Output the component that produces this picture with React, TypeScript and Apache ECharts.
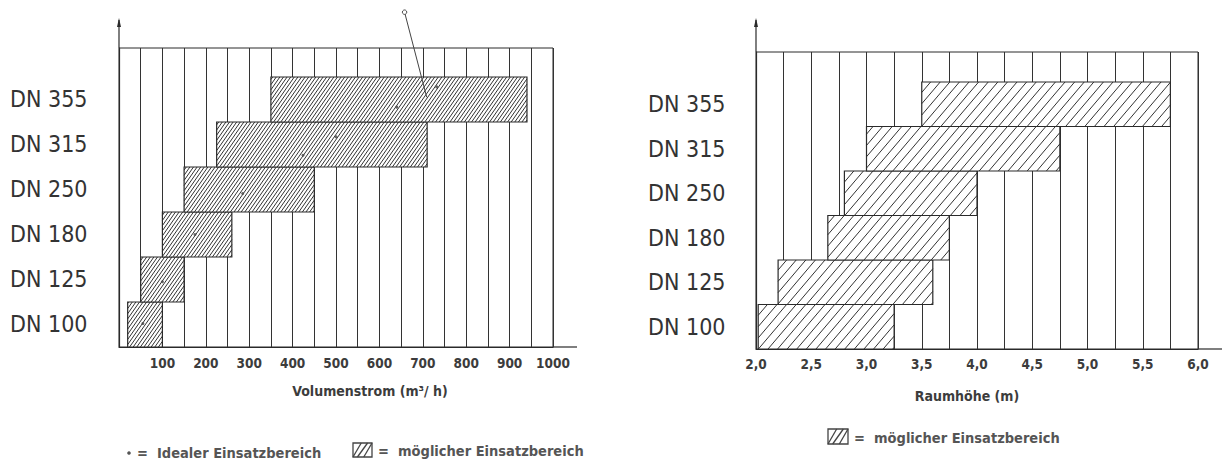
import React, { useEffect, useRef } from 'react';
import * as echarts from 'echarts';

// ---------- data ----------
const categories = ['DN 100', 'DN 125', 'DN 180', 'DN 250', 'DN 315', 'DN 355'];

// left panel: Volumenstrom (m³/h), possible range per diameter
const flowMin = [20, 50, 100, 150, 225, 350];
const flowMax = [100, 150, 260, 450, 710, 940];
// ideal range marks (value, band position)
const idealFlow = [55, 100, 175, 285, 424, 500, 640, 732];
const idealBand = [0.52, 1.45, 2.5, 3.41, 4.26, 4.67, 5.33, 5.78];
// leader line of the ideal range annotation
const leaderFlow = [658, 709];
const leaderBand = [7.44, 5.55];
const flowTickLabels = ['100', '200', '300', '400', '500', '600', '700', '800', '900', '1000'];

// right panel: Raumhöhe (m), possible range per diameter
const heightMin = [2.02, 2.2, 2.65, 2.8, 3.0, 3.5];
const heightMax = [3.25, 3.6, 3.75, 4.0, 4.75, 5.75];
const heightTickLabels = ['2,0', '2,5', '3,0', '3,5', '4,0', '4,5', '5,0', '5,5', '6,0'];

const LABEL_FONT = 'DejaVu Sans Condensed';
const TICK_FONT = 'DejaVu Sans Condensed';
const INK = '#2a2a2a';

function hatchRenderer(spacing: number, slope: number, lw: number, color: string) {
  return (params: any, api: any) => {
    const lo = api.value(0);
    const hi = api.value(1);
    const band = api.value(2);
    const p0 = api.coord([lo, band]);
    const p1 = api.coord([hi, band + 1]);
    const x0 = p0[0];
    const x1 = p1[0];
    const yb = p0[1];
    const yt = p1[1];
    const h = yb - yt;
    const span = slope * h;
    const children: any[] = [
      { type: 'rect', shape: { x: x0, y: yt, width: x1 - x0, height: h }, style: { fill: '#fff', stroke: 'none' } },
    ];
    let c = Math.floor((x0 - span) / spacing) * spacing;
    for (; c <= x1; c += spacing) {
      const tmin = Math.max(0, (x0 - c) / span);
      const tmax = Math.min(1, (x1 - c) / span);
      if (tmax > tmin) {
        children.push({
          type: 'line',
          shape: { x1: c + span * tmin, y1: yb - h * tmin, x2: c + span * tmax, y2: yb - h * tmax },
          style: { stroke: color, lineWidth: lw },
        });
      }
    }
    children.push({
      type: 'rect',
      shape: { x: x0, y: yt, width: x1 - x0, height: h },
      style: { fill: 'none', stroke: INK, lineWidth: 1.2 },
    });
    return { type: 'group', children };
  };
}

function legendBox(x: number, y: number, w: number, h: number) {
  const lines: any[] = [
    { type: 'rect', shape: { x, y, width: w, height: h }, style: { fill: '#fff', stroke: '#444', lineWidth: 1.3 } },
  ];
  const step = w / 3;
  for (let k = 1; k <= 3; k++) {
    const xs = x + step * (k - 1);
    lines.push({
      type: 'line',
      shape: { x1: Math.max(x, xs - step * 0.3), y1: y + h, x2: Math.min(x + w, xs + step * 1.3), y2: y },
      style: { stroke: '#444', lineWidth: 1.3 },
    });
  }
  return lines;
}

export default function App() {
  const ref = useRef<HTMLDivElement>(null);

  useEffect(() => {
    document.body.style.margin = '0';
    const chart = echarts.init(ref.current!, null, { renderer: 'svg' });

    const flowData = categories.map((_, i) => [flowMin[i], flowMax[i], i]);
    const heightData = categories.map((_, i) => [heightMin[i], heightMax[i], i]);
    const idealData = idealFlow.map((v, i) => [v, idealBand[i]]);
    const leaderData = [[leaderFlow[0], leaderBand[0], leaderFlow[1], leaderBand[1]]];

    const yLabel = (v: number) => {
      const i = Math.round(v - 0.5);
      if (Math.abs(v - 0.5 - i) < 1e-6 && i >= 0 && i < categories.length) return categories[i];
      return '';
    };

    const tickLabelStyle = {
      fontFamily: TICK_FONT,
      fontWeight: 'bold' as const,
      fontSize: 13.5,
      color: '#3c3c3c',
    };

    const nameStyle = {
      fontFamily: TICK_FONT,
      fontWeight: 'bold' as const,
      fontSize: 14,
      fill: '#3c3c3c',
      align: 'center' as const,
      verticalAlign: 'middle' as const,
    };

    const legendStyle = {
      fontFamily: TICK_FONT,
      fontWeight: 'bold' as const,
      fontSize: 14.5,
      fill: '#555',
      verticalAlign: 'middle' as const,
    };

    const option: any = {
      animation: false,
      backgroundColor: '#fff',
      grid: [
        { left: 119, top: 48, width: 434, height: 299, show: true, borderColor: INK, borderWidth: 1 },
        { left: 756, top: 52, width: 442, height: 297, show: true, borderColor: INK, borderWidth: 1 },
      ],
      xAxis: [
        {
          gridIndex: 0,
          type: 'value',
          min: 0,
          max: 1000,
          interval: 50,
          axisLine: { show: true, lineStyle: { color: INK, width: 1.2 } },
          axisTick: { show: false },
          splitLine: { show: true, lineStyle: { color: '#333', width: 1 } },
          axisLabel: {
            ...tickLabelStyle,
            margin: 9,
            formatter: (v: number) => {
              const i = Math.round(v / 100) - 1;
              if (Math.abs(v - (i + 1) * 100) < 1e-6 && i >= 0 && i < flowTickLabels.length) return flowTickLabels[i];
              return '';
            },
          },
        },
        {
          gridIndex: 1,
          type: 'value',
          min: 2,
          max: 6,
          interval: 0.25,
          axisLine: { show: true, lineStyle: { color: INK, width: 1.2 } },
          axisTick: { show: false },
          splitLine: { show: true, lineStyle: { color: '#333', width: 1 } },
          axisLabel: {
            ...tickLabelStyle,
            margin: 8,
            formatter: (v: number) => {
              const i = Math.round((v - 2) / 0.5);
              if (Math.abs(v - 2 - i * 0.5) < 1e-6 && i >= 0 && i < heightTickLabels.length) return heightTickLabels[i];
              return '';
            },
          },
        },
      ],
      yAxis: [
        {
          gridIndex: 0,
          type: 'value',
          min: 0,
          max: 6.644,
          interval: 0.5,
          axisLine: { show: true, lineStyle: { color: INK, width: 1.2 } },
          axisTick: { show: false },
          splitLine: { show: false },
          axisLabel: {
            align: 'left',
            margin: 109,
            fontFamily: LABEL_FONT,
            fontSize: 23,
            color: '#333',
            formatter: yLabel,
          },
        },
        {
          gridIndex: 1,
          type: 'value',
          min: 0,
          max: 6.674,
          interval: 0.5,
          axisLine: { show: true, lineStyle: { color: INK, width: 1.2 } },
          axisTick: { show: false },
          splitLine: { show: false },
          axisLabel: {
            align: 'left',
            margin: 108,
            fontFamily: LABEL_FONT,
            fontSize: 23,
            color: '#333',
            formatter: yLabel,
          },
        },
      ],
      series: [
        {
          type: 'custom',
          name: 'möglicher Einsatzbereich (Volumenstrom)',
          xAxisIndex: 0,
          yAxisIndex: 0,
          data: flowData,
          encode: { x: [0, 1], y: 2 },
          renderItem: hatchRenderer(3.6, 0.7, 0.95, '#262626'),
          clip: false,
          z: 3,
        },
        {
          type: 'scatter',
          name: 'Idealer Einsatzbereich',
          xAxisIndex: 0,
          yAxisIndex: 0,
          data: idealData,
          symbol: 'circle',
          symbolSize: 3,
          itemStyle: { color: '#444' },
          z: 5,
        },
        {
          type: 'custom',
          name: 'leader',
          xAxisIndex: 0,
          yAxisIndex: 0,
          data: leaderData,
          clip: false,
          z: 6,
          renderItem: (params: any, api: any) => {
            const a = api.coord([api.value(0), api.value(1)]);
            const b = api.coord([api.value(2), api.value(3)]);
            return {
              type: 'group',
              children: [
                {
                  type: 'line',
                  shape: { x1: a[0], y1: a[1], x2: b[0], y2: b[1] },
                  style: { stroke: '#444', lineWidth: 1 },
                },
                {
                  type: 'circle',
                  shape: { cx: a[0], cy: a[1], r: 2.2 },
                  style: { fill: '#fff', stroke: '#444', lineWidth: 1 },
                },
              ],
            };
          },
        },
        {
          type: 'custom',
          name: 'möglicher Einsatzbereich (Raumhöhe)',
          xAxisIndex: 1,
          yAxisIndex: 1,
          data: heightData,
          encode: { x: [0, 1], y: 2 },
          renderItem: hatchRenderer(9.6, 0.85, 1, '#333'),
          clip: false,
          z: 3,
        },
      ],
      graphic: [
        // axis extensions / arrows
        { type: 'line', shape: { x1: 119, y1: 48, x2: 119, y2: 20 }, style: { stroke: INK, lineWidth: 1.2 } },
        { type: 'polygon', shape: { points: [[119, 18], [117, 27], [121, 27]] }, style: { fill: INK } },
        { type: 'line', shape: { x1: 553, y1: 347, x2: 577, y2: 347 }, style: { stroke: INK, lineWidth: 1.2 } },
        { type: 'line', shape: { x1: 756, y1: 52, x2: 756, y2: 20 }, style: { stroke: INK, lineWidth: 1.2 } },
        { type: 'polygon', shape: { points: [[756, 18], [754, 27], [758, 27]] }, style: { fill: INK } },
        { type: 'line', shape: { x1: 1198, y1: 349, x2: 1222, y2: 349 }, style: { stroke: INK, lineWidth: 1.2 } },
        // axis names
        { type: 'text', x: 370, y: 391, style: { ...nameStyle, text: 'Volumenstrom (m³/ h)' } },
        { type: 'text', x: 967, y: 396, style: { ...nameStyle, text: 'Raumhöhe (m)' } },
        // legends
        { type: 'circle', shape: { cx: 129, cy: 453, r: 1.8 }, style: { fill: '#555' } },
        { type: 'text', x: 137, y: 453, style: { ...legendStyle, text: '=  Idealer Einsatzbereich' } },
        ...legendBox(353, 443, 19, 14),
        { type: 'text', x: 378, y: 451, style: { ...legendStyle, text: '=  möglicher Einsatzbereich' } },
        ...legendBox(828, 429, 20, 15),
        { type: 'text', x: 854, y: 438, style: { ...legendStyle, text: '=  möglicher Einsatzbereich' } },
      ],
    };

    chart.setOption(option);
    return () => chart.dispose();
  }, []);

  return <div ref={ref} style={{ position: 'fixed', left: 0, top: 0, width: 1228, height: 463 }} />;
}
